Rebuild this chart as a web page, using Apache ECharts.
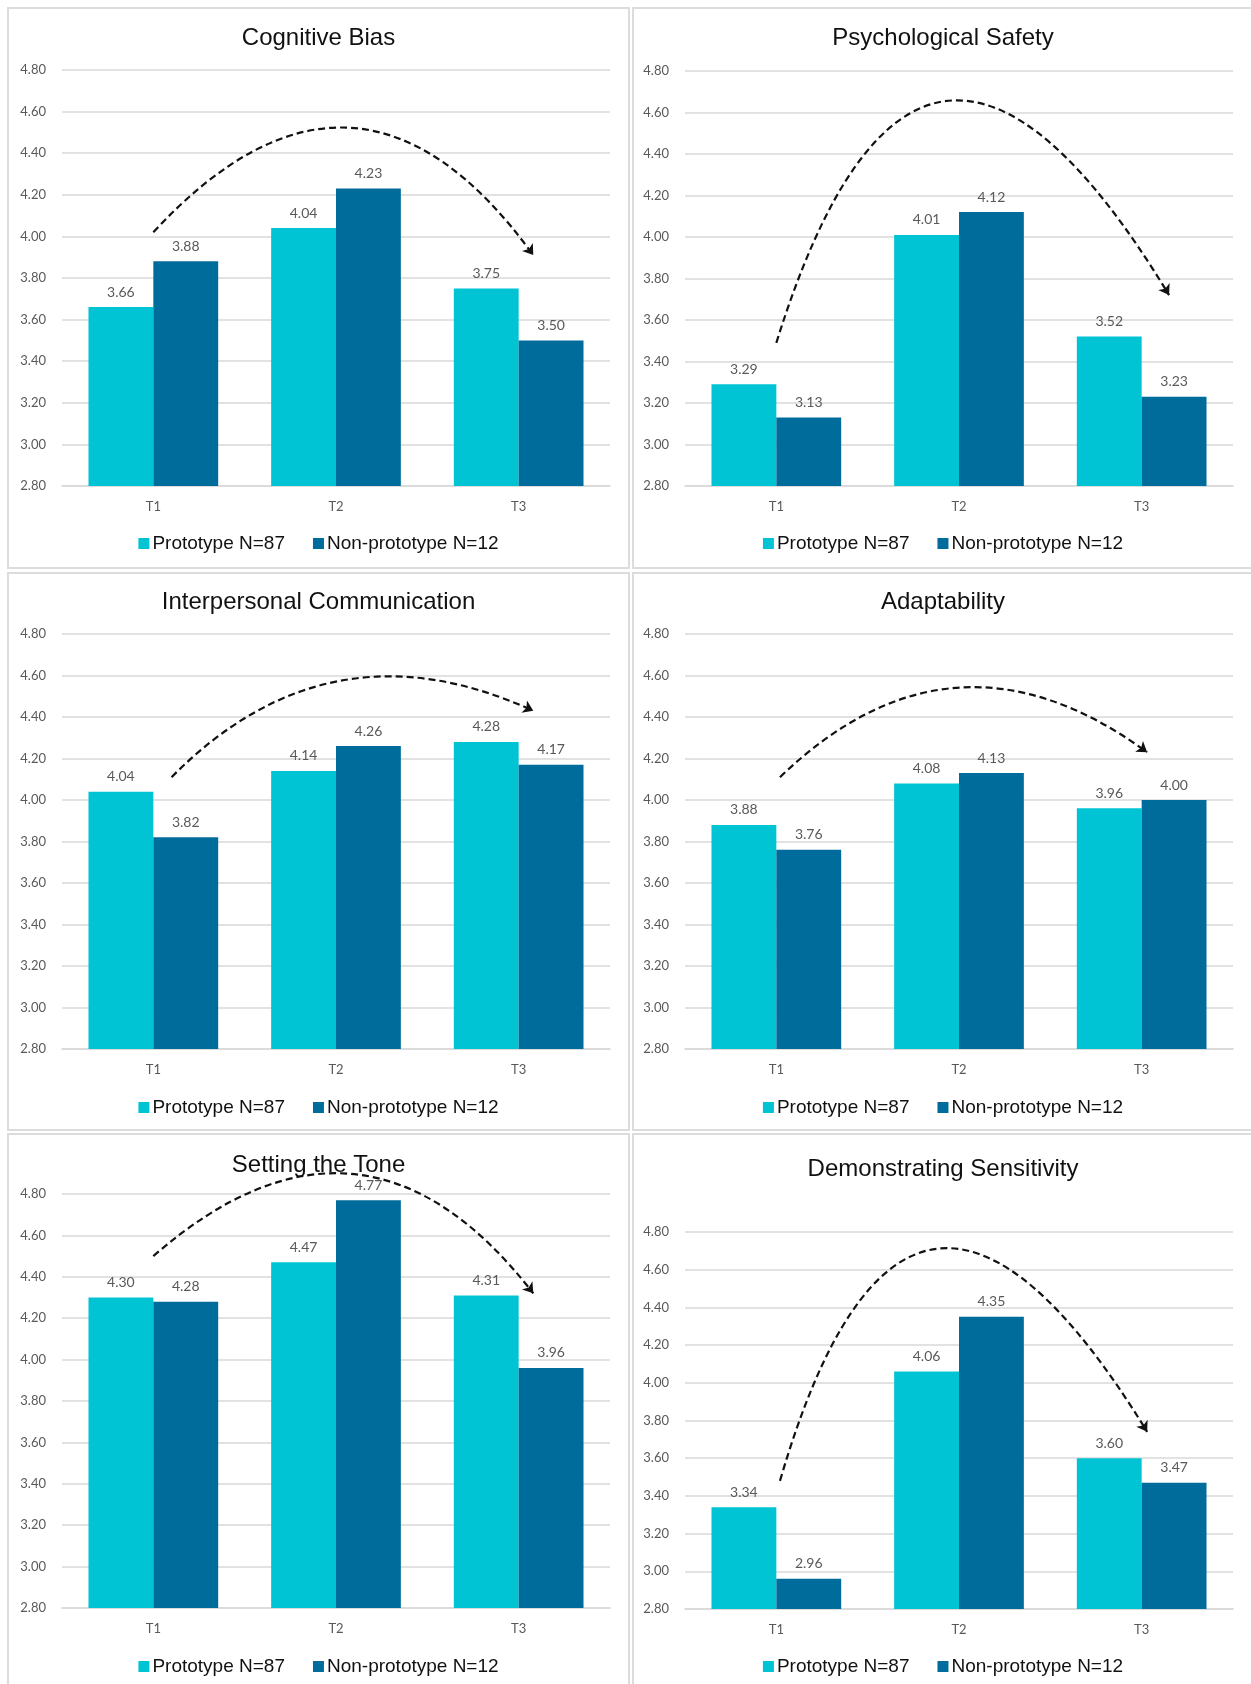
<!DOCTYPE html>
<html lang="en">
<head>
<meta charset="UTF-8">
<title>Prototype vs Non-prototype</title>
<script src="https://cdn.jsdelivr.net/npm/echarts@6/dist/echarts.min.js"></script>
<style>
    body { margin: 0; background: #fff; overflow: hidden; width: 1251px; height: 1684px; position: relative; }
    .panel { position: absolute; box-sizing: border-box; border: 2px solid #dcdcdc; background: #fff; }
</style>
</head>
<body>
<div id="p1" class="panel"></div>
<div id="p2" class="panel"></div>
<div id="p3" class="panel"></div>
<div id="p4" class="panel"></div>
<div id="p5" class="panel"></div>
<div id="p6" class="panel"></div>

<script>
    const times = ['T1', 'T2', 'T3'];
    const seriesNames = ['Prototype N=87', 'Non-prototype N=12'];
    const yMin = 2.8, yMax = 4.8, yStep = 0.2;

    const cognitiveProto = [3.66, 4.04, 3.75];
    const cognitiveNon = [3.88, 4.23, 3.50];
    const safetyProto = [3.29, 4.01, 3.52];
    const safetyNon = [3.13, 4.12, 3.23];
    const communicationProto = [4.04, 4.14, 4.28];
    const communicationNon = [3.82, 4.26, 4.17];
    const adaptabilityProto = [3.88, 4.08, 3.96];
    const adaptabilityNon = [3.76, 4.13, 4.00];
    const toneProto = [4.30, 4.47, 4.31];
    const toneNon = [4.28, 4.77, 3.96];
    const sensitivityProto = [3.34, 4.06, 3.60];
    const sensitivityNon = [2.96, 4.35, 3.47];

    // dashed trend arrows: [start, end] as [category position, score]
    const cognitiveArrow = [[0, 4.02], [2.08, 3.91]];
    const safetyArrow = [[0, 3.49], [2.15, 3.72]];
    const communicationArrow = [[0.1, 4.11], [2.08, 4.43]];
    const adaptabilityArrow = [[0.02, 4.11], [2.03, 4.23]];
    const toneArrow = [[0, 4.50], [2.08, 4.32]];
    const sensitivityArrow = [[0.02, 3.48], [2.03, 3.74]];

    const CYAN = '#00c3d4';
    const NAVY = '#006c9b';

    // page layout (absolute px): box = [x, y, w, h], grid = [x, y, w, h]
    const panels = [
        {el: 'p1', title: 'Cognitive Bias', proto: cognitiveProto, non: cognitiveNon, arrow: cognitiveArrow, curve: 0.61,
            box: [7, 7, 623, 562], grid: [62, 70, 548, 416], titleY: 34, legendY: 540},
        {el: 'p2', title: 'Psychological Safety', proto: safetyProto, non: safetyNon, arrow: safetyArrow, curve: 1.11,
            box: [632, 7, 622, 562], grid: [685, 71, 548, 415], titleY: 34, legendY: 540},
        {el: 'p3', title: 'Interpersonal Communication', proto: communicationProto, non: communicationNon, arrow: communicationArrow, curve: 0.35,
            box: [7, 572, 623, 559], grid: [62, 634, 548, 415], titleY: 598, legendY: 1104},
        {el: 'p4', title: 'Adaptability', proto: adaptabilityProto, non: adaptabilityNon, arrow: adaptabilityArrow, curve: 0.42,
            box: [632, 572, 622, 559], grid: [685, 634, 548, 415], titleY: 598, legendY: 1104},
        {el: 'p5', title: 'Setting the Tone', proto: toneProto, non: toneNon, arrow: toneArrow, curve: 0.53,
            box: [7, 1133, 623, 560], grid: [62, 1194, 548, 414], titleY: 1161, legendY: 1663},
        {el: 'p6', title: 'Demonstrating Sensitivity', proto: sensitivityProto, non: sensitivityNon, arrow: sensitivityArrow, curve: 1.13,
            box: [632, 1133, 622, 560], grid: [685, 1232, 548, 377], titleY: 1165, legendY: 1663}
    ];

    const axisFont = {color: '#595959', fontFamily: 'Lato', fontSize: 13};

    function barSeries(name, values, color) {
        return {
            name: name,
            type: 'bar',
            data: values,
            barGap: '0%',
            barCategoryGap: '29%',
            itemStyle: {color: color},
            label: {
                show: true,
                position: 'top',
                distance: 8,
                formatter: p => p.value.toFixed(2),
                color: '#595959',
                fontFamily: 'Lato',
                fontSize: 14
            }
        };
    }

    panels.forEach(p => {
        const [bx, by, bw, bh] = p.box;
        const div = document.getElementById(p.el);
        div.style.left = bx + 'px';
        div.style.top = by + 'px';
        div.style.width = bw + 'px';
        div.style.height = bh + 'px';
        const ox = bx + 2, oy = by + 2;

        const chart = echarts.init(div);
        chart.setOption({
            animation: false,
            title: {
                text: p.title,
                left: 'center',
                top: p.titleY - oy - 13,
                textStyle: {fontFamily: 'Liberation Sans', fontSize: 24, fontWeight: 'normal', color: '#111'}
            },
            legend: {
                data: seriesNames,
                left: 'center',
                top: p.legendY - oy - 11,
                icon: 'rect',
                itemWidth: 11,
                itemHeight: 11,
                itemGap: 28,
                textStyle: {fontFamily: 'Liberation Sans', fontSize: 19, color: '#111', padding: [0, 0, 0, -2]}
            },
            grid: {left: p.grid[0] - ox, top: p.grid[1] - oy, width: p.grid[2], height: p.grid[3]},
            xAxis: [
                {
                    type: 'category',
                    data: times,
                    axisTick: {show: false},
                    axisLine: {lineStyle: {color: '#d9d9d9', width: 1.5}},
                    axisLabel: Object.assign({margin: 14}, axisFont)
                },
                {type: 'value', min: -0.5, max: 2.5, show: false}
            ],
            yAxis: {
                type: 'value',
                min: yMin,
                max: yMax,
                interval: yStep,
                axisLine: {show: false},
                axisTick: {show: false},
                splitLine: {lineStyle: {color: '#d9d9d9', width: 1.5}},
                axisLabel: Object.assign({margin: 16, formatter: v => v.toFixed(2)}, axisFont)
            },
            series: [
                barSeries(seriesNames[0], p.proto, CYAN),
                barSeries(seriesNames[1], p.non, NAVY),
                {
                    type: 'lines',
                    coordinateSystem: 'cartesian2d',
                    xAxisIndex: 1,
                    yAxisIndex: 0,
                    clip: false,
                    silent: true,
                    z: 5,
                    symbol: ['none', 'arrow'],
                    symbolSize: 10,
                    lineStyle: {color: '#111', width: 2.2, type: [7, 4], curveness: p.curve, opacity: 1},
                    data: [{coords: p.arrow}]
                }
            ]
        });
    });
</script>
</body>
</html>
